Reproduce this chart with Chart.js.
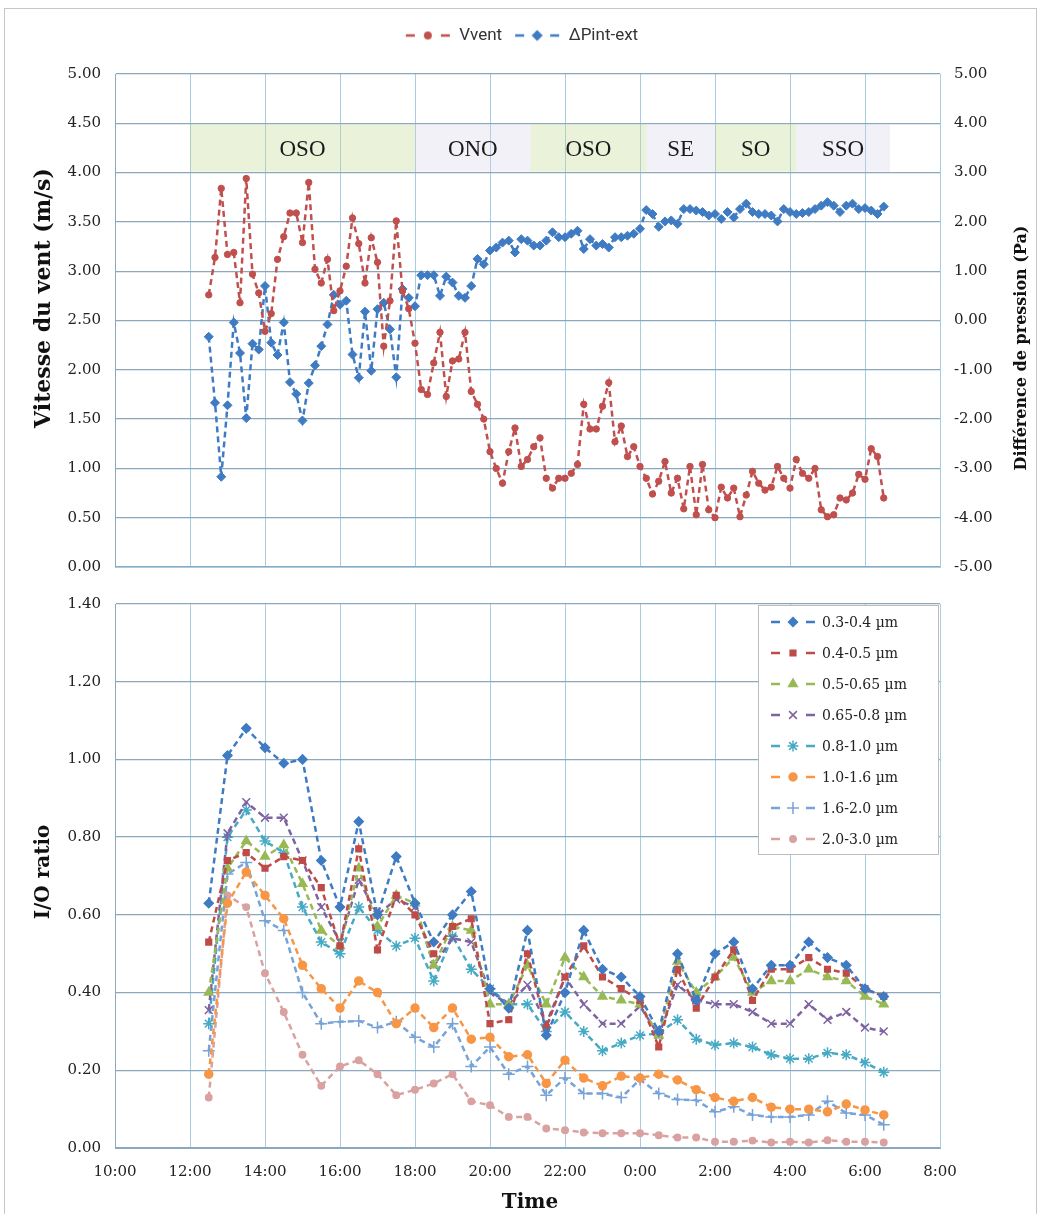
<!DOCTYPE html>
<html>
<head>
<meta charset="utf-8">
<script src="https://cdn.jsdelivr.net/npm/chart.js@4.4.1/dist/chart.umd.min.js"></script>
<style>
    body { margin: 0; background: #fff; }
    #frame { position: absolute; left: 4px; top: 8px; width: 1031px; height: 1210px; border: 1px solid #c6c6c6; }
    #windChart { position: absolute; left: 0; top: 0; }
    #ratioChart { position: absolute; left: 0; top: 581px; }
</style>
</head>
<body>
<div id="frame"></div>
<canvas id="windChart" width="1043" height="590"></canvas>
<canvas id="ratioChart" width="1043" height="633"></canvas>
<script>
// x axis ticks (2 h steps, 10:00 -> 8:00 next day)
const timeTicks = ["10:00", "12:00", "14:00", "16:00", "18:00", "20:00", "22:00", "0:00", "2:00", "4:00", "6:00", "8:00"];

// wind record, one value every 10 min from 12:30
const windStart = "12:30";
const vvent = [
    2.76, 3.14, 3.84, 3.17, 3.19, 2.68, 3.94, 2.97, 2.78, 2.39,
    2.57, 3.12, 3.35, 3.59, 3.59, 3.29, 3.90, 3.02, 2.88, 3.12,
    2.60, 2.80, 3.05, 3.54, 3.28, 2.88, 3.34, 3.09, 2.24, 2.70,
    3.51, 2.80, 2.62, 2.27, 1.80, 1.75, 2.07, 2.38, 1.73, 2.09,
    2.11, 2.38, 1.78, 1.65, 1.50, 1.17, 1.00, 0.85, 1.17, 1.41,
    1.02, 1.09, 1.22, 1.31, 0.90, 0.80, 0.90, 0.90, 0.95, 1.04,
    1.65, 1.40, 1.40, 1.63, 1.87, 1.27, 1.43, 1.12, 1.22, 1.02,
    0.90, 0.74, 0.87, 1.07, 0.75, 0.90, 0.59, 1.02, 0.53, 1.04,
    0.58, 0.50, 0.81, 0.70, 0.80, 0.51, 0.73, 0.97, 0.85, 0.78,
    0.81, 1.02, 0.90, 0.80, 1.09, 0.95, 0.90, 1.00, 0.58, 0.51,
    0.53, 0.70, 0.68, 0.75, 0.94, 0.89, 1.20, 1.12, 0.70
];
const dpIntExt = [
    -0.33, -1.67, -3.17, -1.72, -0.04, -0.66, -1.98, -0.47, -0.59, 0.70,
    -0.45, -0.70, -0.04, -1.25, -1.49, -2.03, -1.27, -0.91, -0.52, -0.08,
    0.52, 0.32, 0.40, -0.69, -1.16, 0.18, -1.02, 0.23, 0.36, -0.18,
    -1.15, 0.64, 0.46, 0.29, 0.92, 0.92, 0.92, 0.50, 0.89, 0.77,
    0.50, 0.46, 0.70, 1.25, 1.14, 1.42, 1.48, 1.58, 1.62, 1.38,
    1.65, 1.62, 1.52, 1.52, 1.62, 1.79, 1.69, 1.69, 1.76, 1.82,
    1.45, 1.65, 1.52, 1.55, 1.48, 1.69, 1.69, 1.72, 1.76, 1.86,
    2.24, 2.16, 1.90, 2.01, 2.03, 1.96, 2.26, 2.26, 2.23, 2.20,
    2.13, 2.16, 2.06, 2.20, 2.09, 2.26, 2.37, 2.20, 2.16, 2.16,
    2.13, 2.01, 2.26, 2.20, 2.16, 2.18, 2.20, 2.26, 2.33, 2.40,
    2.33, 2.20, 2.33, 2.37, 2.26, 2.28, 2.23, 2.16, 2.31
];

// wind direction periods
const bandLabels = ["OSO", "ONO", "OSO", "SE", "SO", "SSO"];
const bandFrom = ["12:00", "18:00", "21:05", "0:10", "2:00", "4:10"];
const bandTo = ["18:00", "21:05", "0:10", "2:00", "4:10", "6:40"];

// I/O ratios, one value every 30 min from 12:30
const ratioStart = "12:30";
const sizeLabels = ["0.3-0.4 µm", "0.4-0.5 µm", "0.5-0.65 µm", "0.65-0.8 µm", "0.8-1.0 µm", "1.0-1.6 µm", "1.6-2.0 µm", "2.0-3.0 µm"];
const io03 = [0.63, 1.01, 1.08, 1.03, 0.99, 1.00, 0.74, 0.62, 0.84, 0.60, 0.75, 0.63, 0.53, 0.60, 0.66, 0.41, 0.36, 0.56, 0.29, 0.40, 0.56, 0.46, 0.44, 0.39, 0.30, 0.50, 0.38, 0.50, 0.53, 0.41, 0.47, 0.47, 0.53, 0.49, 0.47, 0.41, 0.39];
const io04 = [0.53, 0.74, 0.76, 0.72, 0.75, 0.74, 0.67, 0.52, 0.77, 0.51, 0.65, 0.60, 0.50, 0.57, 0.59, 0.32, 0.33, 0.50, 0.31, 0.44, 0.52, 0.44, 0.41, 0.38, 0.26, 0.46, 0.36, 0.44, 0.51, 0.38, 0.46, 0.46, 0.49, 0.46, 0.45, 0.41, 0.39];
const io05 = [0.40, 0.72, 0.79, 0.75, 0.78, 0.68, 0.56, 0.52, 0.72, 0.57, 0.65, 0.63, 0.47, 0.57, 0.56, 0.37, 0.37, 0.47, 0.37, 0.49, 0.44, 0.39, 0.38, 0.37, 0.29, 0.48, 0.40, 0.44, 0.49, 0.40, 0.43, 0.43, 0.46, 0.44, 0.43, 0.39, 0.37];
const io065 = [0.355, 0.81, 0.89, 0.85, 0.85, 0.74, 0.62, 0.53, 0.69, 0.60, 0.64, 0.62, 0.47, 0.54, 0.53, 0.40, 0.37, 0.42, 0.32, 0.44, 0.37, 0.32, 0.32, 0.365, 0.29, 0.42, 0.38, 0.37, 0.37, 0.35, 0.32, 0.32, 0.37, 0.33, 0.35, 0.31, 0.30];
const io08 = [0.32, 0.80, 0.87, 0.79, 0.76, 0.62, 0.53, 0.50, 0.62, 0.56, 0.52, 0.54, 0.43, 0.545, 0.46, 0.41, 0.37, 0.37, 0.30, 0.35, 0.30, 0.25, 0.27, 0.29, 0.295, 0.33, 0.28, 0.265, 0.27, 0.26, 0.24, 0.23, 0.23, 0.245, 0.24, 0.22, 0.195];
const io10 = [0.19, 0.63, 0.71, 0.65, 0.59, 0.47, 0.41, 0.36, 0.43, 0.40, 0.32, 0.36, 0.31, 0.36, 0.28, 0.285, 0.235, 0.24, 0.166, 0.226, 0.18, 0.16, 0.185, 0.18, 0.19, 0.175, 0.15, 0.13, 0.12, 0.13, 0.105, 0.10, 0.10, 0.093, 0.113, 0.098, 0.085];
const io16 = [0.25, 0.705, 0.735, 0.585, 0.56, 0.40, 0.32, 0.325, 0.327, 0.31, 0.325, 0.285, 0.26, 0.32, 0.21, 0.26, 0.19, 0.21, 0.136, 0.18, 0.14, 0.14, 0.13, 0.176, 0.14, 0.125, 0.123, 0.093, 0.106, 0.085, 0.08, 0.08, 0.085, 0.12, 0.09, 0.085, 0.06];
const io20 = [0.13, 0.65, 0.62, 0.45, 0.35, 0.24, 0.16, 0.21, 0.226, 0.19, 0.136, 0.15, 0.166, 0.19, 0.12, 0.11, 0.08, 0.08, 0.05, 0.046, 0.04, 0.038, 0.038, 0.038, 0.033, 0.027, 0.027, 0.016, 0.016, 0.019, 0.014, 0.016, 0.014, 0.02, 0.016, 0.016, 0.014];

// hours elapsed since 10:00 (wraps past midnight)
function toHours(hhmm) {
    let p = hhmm.split(":");
    let h = parseInt(p[0]) + parseInt(p[1]) / 60 - 10;
    return h < 0 ? h + 24 : h;
}
function series(values, start, stepMin) {
    let t0 = toHours(start);
    return values.map((v, i) => ({ x: t0 + i * stepMin / 60, y: v }));
}

const tickFont = { family: "DejaVu Serif", size: 15 };
const hGrid = "#8ca8bd";
const vGrid = "#a9cde3";

// small "- marker -" picture used in the legends
function legendIcon(ds) {
    let c = document.createElement("canvas");
    c.width = 46; c.height = 16;
    let g = c.getContext("2d");
    g.strokeStyle = ds.borderColor;
    g.lineWidth = 2.5;
    g.beginPath(); g.moveTo(1, 8); g.lineTo(10, 8); g.moveTo(36, 8); g.lineTo(45, 8); g.stroke();
    g.fillStyle = ds.backgroundColor;
    g.lineWidth = 1.5;
    Chart.helpers.drawPoint(g, { pointStyle: ds.pointStyle, radius: ds.pointRadius, borderWidth: 1.5, rotation: 0 }, 23, 8);
    return c;
}

function drawTitle(ctx, text, x, y, font, rotate) {
    ctx.save();
    ctx.translate(x, y);
    if (rotate) ctx.rotate(-Math.PI / 2);
    ctx.font = font;
    ctx.fillStyle = "#111";
    ctx.textAlign = "center";
    ctx.textBaseline = "middle";
    ctx.fillText(text, 0, 0);
    ctx.restore();
}

// wind direction bands between 4.0 and 4.5 m/s
const bandPlugin = {
    id: "windBands",
    beforeDatasetsDraw(chart) {
        let ctx = chart.ctx;
        let x = chart.scales.x, y = chart.scales.yL;
        let top = y.getPixelForValue(4.5), bot = y.getPixelForValue(4.0);
        ctx.save();
        bandLabels.forEach((lab, i) => {
            let x0 = x.getPixelForValue(toHours(bandFrom[i]));
            let x1 = x.getPixelForValue(toHours(bandTo[i]));
            ctx.fillStyle = i % 2 === 0 ? "rgba(190,214,140,0.32)" : "rgba(205,205,228,0.28)";
            ctx.fillRect(x0, top + 1, x1 - x0, bot - top - 2);
            ctx.fillStyle = "#1a1a1a";
            ctx.font = "23px 'Liberation Serif'";
            ctx.textAlign = "center";
            ctx.textBaseline = "middle";
            ctx.fillText(lab, (x0 + x1) / 2, (top + bot) / 2 + 2);
        });
        ctx.restore();
    }
};

const windTitles = {
    id: "windTitles",
    afterDraw(chart) {
        drawTitle(chart.ctx, "Vitesse du vent (m/s)", 44, 298, "bold 22px 'DejaVu Serif'", true);
        drawTitle(chart.ctx, "Différence de pression (Pa)", 1022, 348, "bold 16px 'DejaVu Serif'", true);
    }
};

let windChart = new Chart(document.getElementById("windChart").getContext("2d"), {
    type: "line",
    data: {
        datasets: [
            {
                label: "Vvent",
                data: series(vvent, windStart, 10),
                xAxisID: "x",
                yAxisID: "yL",
                borderColor: "#c0504d",
                backgroundColor: "#c0504d",
                borderWidth: 2.5,
                borderDash: [6, 4],
                pointStyle: "circle",
                pointRadius: 3.2,
                pointBorderWidth: 1
            },
            {
                label: "ΔPint-ext",
                data: series(dpIntExt, windStart, 10),
                xAxisID: "x",
                yAxisID: "yR",
                borderColor: "#3f7bc3",
                backgroundColor: "#3f7bc3",
                borderWidth: 2.5,
                borderDash: [6, 4],
                pointStyle: "rectRot",
                pointRadius: 4.5,
                pointBorderWidth: 1
            }
        ]
    },
    options: {
        responsive: false,
        animation: false,
        layout: { padding: { top: 15 } },
        plugins: {
            tooltip: { enabled: false },
            legend: {
                position: "top",
                labels: {
                    usePointStyle: true,
                    pointStyleWidth: 46,
                    color: "#333",
                    padding: 12,
                    font: { family: "Roboto", size: 17 },
                    generateLabels: chart => chart.data.datasets.map((ds, i) => ({
                        text: ds.label,
                        pointStyle: legendIcon(ds),
                        datasetIndex: i,
                        lineWidth: 0,
                        fontColor: "#333"
                    }))
                }
            }
        },
        scales: {
            x: {
                type: "linear", min: 0, max: 22,
                ticks: { display: false, stepSize: 2 },
                grid: { color: vGrid, drawTicks: false },
                border: { color: vGrid },
                afterFit(s) { s.height = 22; }
            },
            // empty strip between legend and plot
            xGap: {
                type: "linear", position: "top", min: 0, max: 22,
                ticks: { display: false },
                grid: { display: false, drawTicks: false },
                border: { display: false },
                afterFit(s) { s.height = 20; }
            },
            yL: {
                position: "left", min: 0, max: 5,
                ticks: { stepSize: 0.5, padding: 14, color: "#222", font: tickFont, callback: v => v.toFixed(2) },
                grid: { color: hGrid, lineWidth: 1.3, drawTicks: false },
                border: { color: hGrid },
                afterFit(s) { s.width = 115; }
            },
            yR: {
                position: "right", min: -5, max: 5,
                ticks: { stepSize: 1, padding: 14, color: "#222", font: tickFont, callback: v => v.toFixed(2) },
                grid: { display: false, drawTicks: false },
                border: { color: vGrid },
                afterFit(s) { s.width = 103; }
            }
        }
    },
    plugins: [bandPlugin, windTitles]
});

// size-bin series styles
const ratioValues = [io03, io04, io05, io065, io08, io10, io16, io20];
const ratioColors = ["#3f7bc3", "#be4b48", "#98b954", "#7e62a1", "#46aac5", "#f79646", "#78a3d8", "#d9a2a0"];
const ratioPoints = ["rectRot", "rect", "triangle", "crossRot", "star", "circle", "cross", "circle"];
const ratioRadius = [4.5, 4, 5, 5.5, 5.5, 4, 6, 3.2];

const ratioLegend = {
    id: "ratioLegend",
    afterDraw(chart) {
        let ctx = chart.ctx, a = chart.chartArea;
        let bx = a.right - 182, by = a.top + 1, bw = 180, bh = 249;
        ctx.save();
        ctx.fillStyle = "#fff";
        ctx.fillRect(bx, by, bw, bh);
        ctx.strokeStyle = "#bcbcbc";
        ctx.lineWidth = 1;
        ctx.strokeRect(bx + 0.5, by + 0.5, bw, bh);
        chart.data.datasets.forEach((ds, i) => {
            let cy = by + 17 + i * 31;
            ctx.drawImage(legendIcon(ds), bx + 12, cy - 8);
            ctx.fillStyle = "#222";
            ctx.font = "14px 'DejaVu Serif'";
            ctx.textAlign = "left";
            ctx.textBaseline = "middle";
            ctx.fillText(ds.label, bx + 64, cy + 1);
        });
        ctx.restore();
        drawTitle(ctx, "I/O ratio", 44, 291, "bold 20px 'DejaVu Serif'", true);
        drawTitle(ctx, "Time", 530, 622, "bold 20px 'DejaVu Serif'", false);
    }
};

let ratioChart = new Chart(document.getElementById("ratioChart").getContext("2d"), {
    type: "line",
    data: {
        datasets: ratioValues.map((vals, i) => ({
            label: sizeLabels[i],
            data: series(vals, ratioStart, 30),
            borderColor: ratioColors[i],
            backgroundColor: ratioColors[i],
            borderWidth: 2.5,
            borderDash: [6, 4],
            pointStyle: ratioPoints[i],
            pointRadius: ratioRadius[i],
            pointBorderWidth: 1.5
        }))
    },
    options: {
        responsive: false,
        animation: false,
        layout: { padding: { top: 5, right: 103 } },
        plugins: { legend: { display: false }, tooltip: { enabled: false } },
        scales: {
            x: {
                type: "linear", min: 0, max: 22,
                ticks: { stepSize: 2, padding: 15, color: "#222", font: tickFont, callback: v => timeTicks[Math.round(v / 2)] },
                grid: { color: vGrid, drawTicks: false },
                border: { color: hGrid },
                afterFit(s) { s.height = 66; }
            },
            y: {
                min: 0, max: 1.4,
                ticks: { stepSize: 0.2, padding: 14, color: "#222", font: tickFont, callback: v => v.toFixed(2) },
                grid: { color: hGrid, lineWidth: 1.3, drawTicks: false },
                border: { color: hGrid },
                afterFit(s) { s.width = 115; }
            }
        }
    },
    plugins: [ratioLegend]
});
</script>
</body>
</html>
